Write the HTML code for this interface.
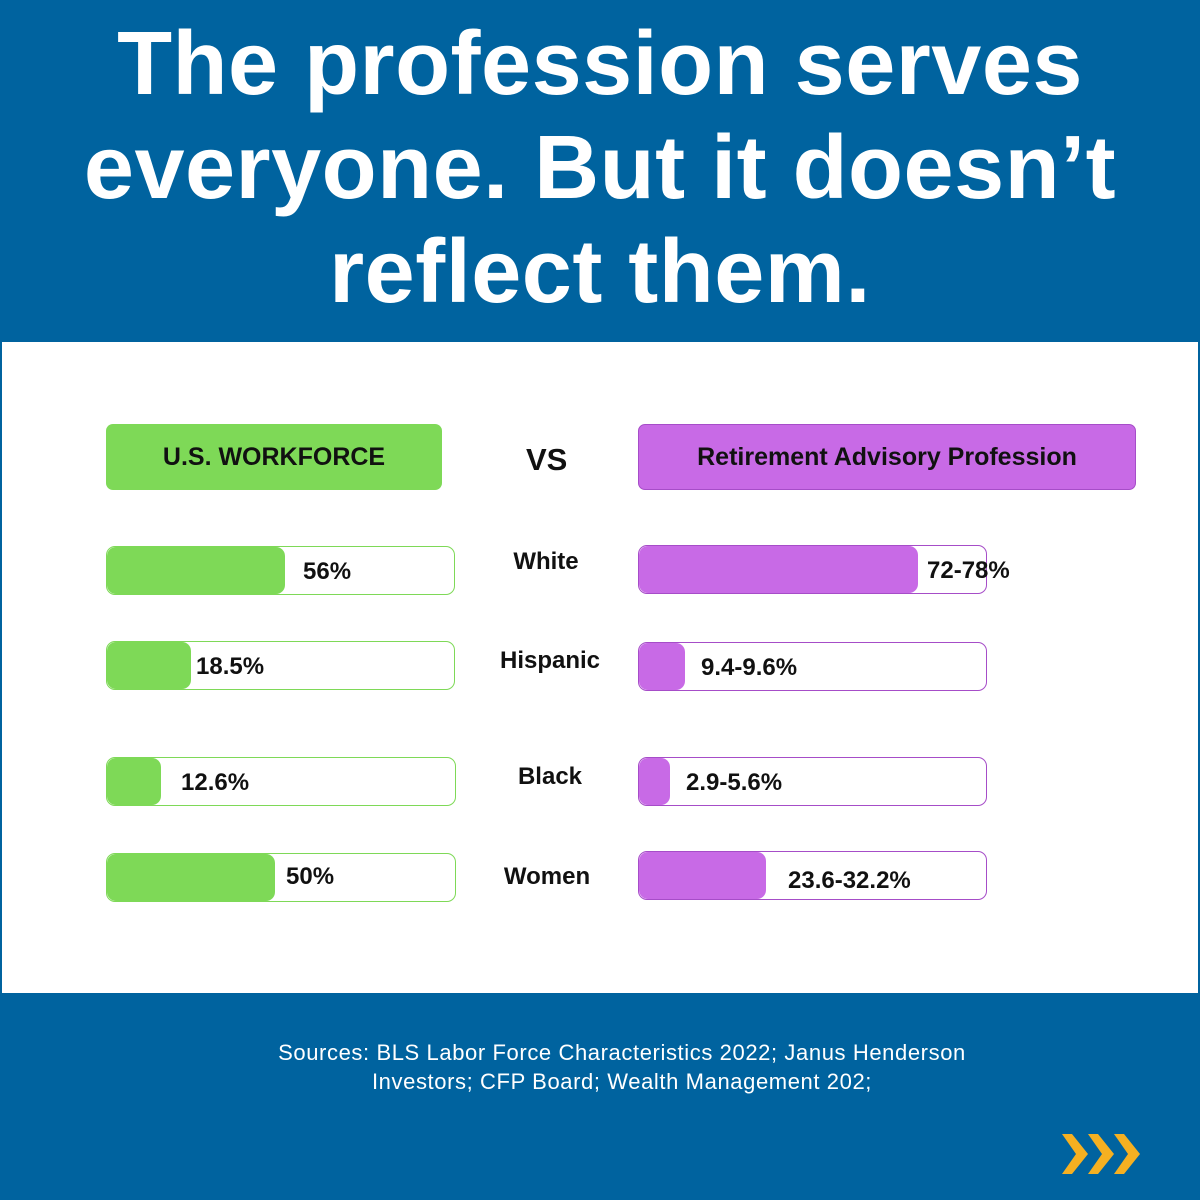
<!DOCTYPE html>
<html><head><style>
body{margin:0;width:1200px;height:1200px;background:#00639f;position:relative;overflow:hidden;font-family:"Liberation Sans",sans-serif}
.a{position:absolute}
h1{position:absolute;left:0;top:12px;width:1200px;margin:0;text-align:center;color:#fff;font-size:90px;line-height:104px;font-weight:bold;letter-spacing:0.5px}
.panel{left:2px;top:342px;width:1196px;height:651px;background:#fff}
.hdr{height:66px;border-radius:7px;font-weight:bold;font-size:25px;display:flex;align-items:center;justify-content:center;color:#111}
.bar{border-radius:9px;box-sizing:border-box;background:#fff;height:49px}
.fill{position:absolute;left:0;top:0;height:100%;border-radius:9px}
.v{position:absolute;font-weight:bold;font-size:24px;color:#111;top:11px;white-space:nowrap}
.lab{position:absolute;font-weight:bold;font-size:24px;color:#111;width:160px;text-align:center;left:470px}
</style></head><body>
<h1>The profession serves<br>everyone. But it doesn’t<br>reflect them.</h1>
<div class="a panel"></div>
<div class="a hdr" style="left:106px;top:424px;width:336px;background:#7ed957">U.S. WORKFORCE</div>
<div class="a" style="left:526px;top:442px;font-weight:bold;font-size:31px;color:#111">VS</div>
<div class="a hdr" style="left:638px;top:424px;width:498px;background:#c86ae6;box-sizing:border-box;border:1px solid #a64dc8">Retirement Advisory Profession</div>

<div class="a bar" style="left:106px;top:546px;width:349px;border:1px solid #7ed957"><div class="fill" style="width:178px;background:#7ed957"></div><span class="v" style="left:196px">56%</span></div>
<div class="a bar" style="left:106px;top:641px;width:349px;border:1px solid #7ed957"><div class="fill" style="width:84px;background:#7ed957"></div><span class="v" style="left:89px">18.5%</span></div>
<div class="a bar" style="left:106px;top:757px;width:350px;border:1px solid #7ed957"><div class="fill" style="width:54px;background:#7ed957"></div><span class="v" style="left:74px">12.6%</span></div>
<div class="a bar" style="left:106px;top:853px;width:350px;border:1px solid #7ed957"><div class="fill" style="width:168px;background:#7ed957"></div><span class="v" style="left:179px;top:9px">50%</span></div>

<div class="lab" style="top:548px;left:466px">White</div>
<div class="lab" style="top:647px">Hispanic</div>
<div class="lab" style="top:763px">Black</div>
<div class="lab" style="top:863px;left:467px">Women</div>

<div class="a bar" style="left:638px;top:545px;width:349px;border:1px solid #a64dc8"><div class="fill" style="width:279px;background:#c86ae6"></div><span class="v" style="left:288px">72-78%</span></div>
<div class="a bar" style="left:638px;top:642px;width:349px;border:1px solid #a64dc8"><div class="fill" style="width:46px;background:#c86ae6"></div><span class="v" style="left:62px">9.4-9.6%</span></div>
<div class="a bar" style="left:638px;top:757px;width:349px;border:1px solid #a64dc8"><div class="fill" style="width:31px;background:#c86ae6"></div><span class="v" style="left:47px">2.9-5.6%</span></div>
<div class="a bar" style="left:638px;top:851px;width:349px;border:1px solid #a64dc8"><div class="fill" style="width:127px;background:#c86ae6"></div><span class="v" style="left:149px;top:15px">23.6-32.2%</span></div>

<div class="a" style="left:0;top:1038px;width:1244px;text-align:center;color:#fff;font-size:22px;line-height:29px;letter-spacing:0.6px">Sources: BLS Labor Force Characteristics 2022; Janus Henderson<br>Investors; CFP Board; Wealth Management 202;</div>

<svg class="a" style="left:1060px;top:1130px" width="90" height="48" viewBox="0 0 90 48">
<g fill="#f5b021"><polygon points="2,4 12,4 28,24 12,44 2,44 16,24"/><polygon points="28,4 38,4 54,24 38,44 28,44 42,24"/><polygon points="54,4 64,4 80,24 64,44 54,44 68,24"/></g>
</svg>
</body></html>
